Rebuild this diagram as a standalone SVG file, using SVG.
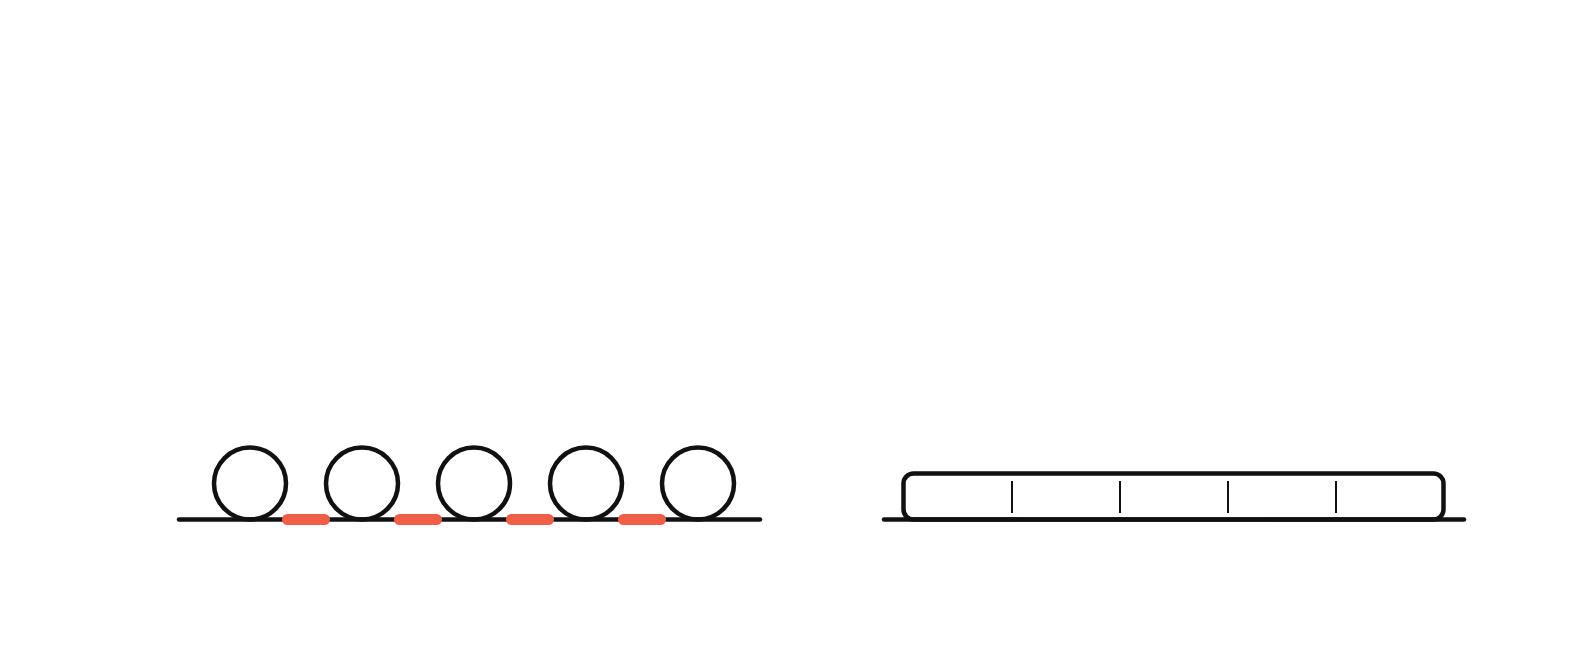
<svg xmlns="http://www.w3.org/2000/svg" width="1584" height="672" viewBox="0 0 1584 672">
  <style>
    .ink { fill: none; stroke: #111111; stroke-width: 4.5; stroke-linecap: round; }
    .tick { stroke: #111111; stroke-width: 2; }
    .hot { stroke: #EF5F48; stroke-width: 11; stroke-linecap: round; }
  </style>
  <rect width="1584" height="672" fill="#ffffff"/>
  <g id="connectors">
    <line class="ink" x1="179" y1="519.5" x2="760" y2="519.5"/>
    <line class="ink" x1="884" y1="519.5" x2="1464" y2="519.5"/>
  </g>
  <g id="loop-1"><circle class="ink" cx="250" cy="483.5" r="36"/></g>
  <g id="loop-2"><circle class="ink" cx="362" cy="483.5" r="36"/></g>
  <g id="loop-3"><circle class="ink" cx="474" cy="483.5" r="36"/></g>
  <g id="loop-4"><circle class="ink" cx="586" cy="483.5" r="36"/></g>
  <g id="loop-5"><circle class="ink" cx="698" cy="483.5" r="36"/></g>
  <g id="segments">
    <line class="hot" x1="287.5" y1="519.5" x2="324.5" y2="519.5"/>
    <line class="hot" x1="399.5" y1="519.5" x2="436.5" y2="519.5"/>
    <line class="hot" x1="511.5" y1="519.5" x2="548.5" y2="519.5"/>
    <line class="hot" x1="623.5" y1="519.5" x2="660.5" y2="519.5"/>
  </g>
  <g id="bar">
    <rect class="ink" x="903.5" y="473.5" width="540" height="46" rx="10" ry="10"/>
    <line class="tick" x1="1012" y1="481" x2="1012" y2="513"/>
    <line class="tick" x1="1120" y1="481" x2="1120" y2="513"/>
    <line class="tick" x1="1228" y1="481" x2="1228" y2="513"/>
    <line class="tick" x1="1336" y1="481" x2="1336" y2="513"/>
  </g>
</svg>
